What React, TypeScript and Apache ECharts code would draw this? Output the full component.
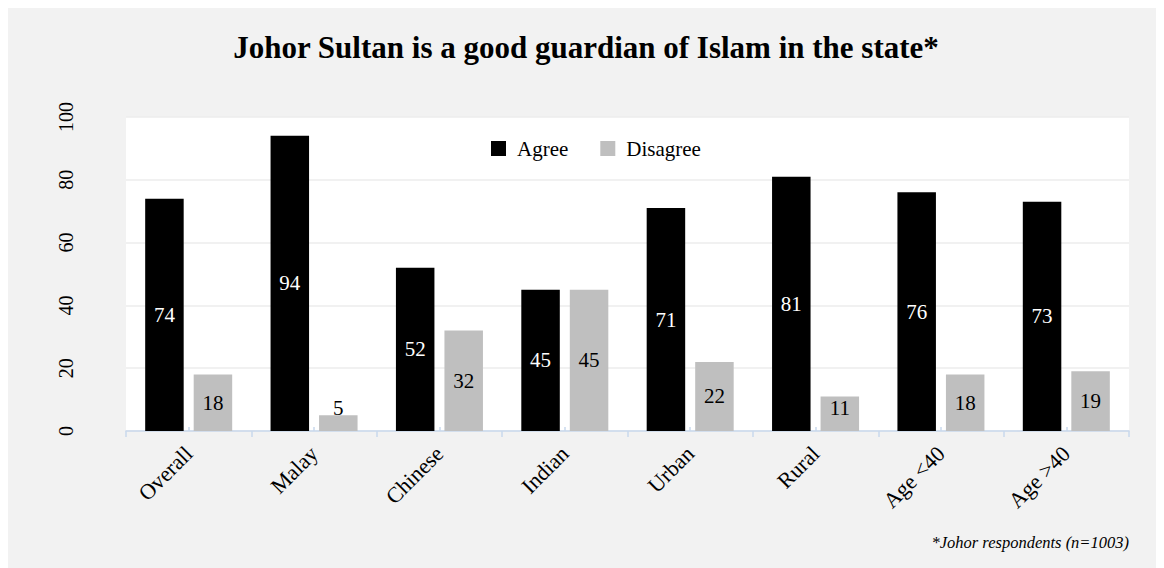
import React, { useEffect, useRef } from "react";
import * as echarts from "echarts";

const categories = ["Overall", "Malay", "Chinese", "Indian", "Urban", "Rural", "Age <40", "Age >40"];
const agreeValues = [74, 94, 52, 45, 71, 81, 76, 73];
const disagreeValues = [18, 5, 32, 45, 22, 11, 18, 19];
const seriesNames = ["Agree", "Disagree"];
const titleText = "Johor Sultan is a good guardian of Islam in the state*";
const footnoteText = "*Johor respondents (n=1003)";

const SERIF = "Liberation Serif";

function labelled(values: number[]) {
  return values.map((v) =>
    v < 15
      ? { value: v, label: { position: "insideBottom", distance: 13 } }
      : { value: v }
  );
}

export default function App() {
  const ref = useRef<HTMLDivElement>(null);
  useEffect(() => {
    document.body.style.overflow = "hidden";
    const chart = echarts.init(ref.current!, undefined, { renderer: "svg" });
    chart.setOption({
      animation: false,
      backgroundColor: "#f2f2f2",
      textStyle: { fontFamily: SERIF },
      title: {
        text: titleText,
        left: "center",
        top: 19,
        textStyle: { fontFamily: SERIF, fontSize: 31, fontWeight: "bold", color: "#000" },
      },
      legend: {
        data: seriesNames,
        left: 478,
        top: 125,
        itemWidth: 15,
        itemHeight: 15,
        itemGap: 32,
        icon: "rect",
        textStyle: { fontFamily: SERIF, fontSize: 21, color: "#000", padding: [0, 0, 0, 6] },
      },
      grid: {
        left: 118,
        right: 35,
        top: 109,
        bottom: 137,
        show: true,
        backgroundColor: "#ffffff",
        borderWidth: 0,
        containLabel: false,
      },
      xAxis: [
        {
          type: "category",
          data: categories,
          position: "bottom",
          axisLine: { show: true, lineStyle: { color: "#c9d8ec", width: 1.5 } },
          axisTick: { show: true, alignWithLabel: false, length: 6, lineStyle: { color: "#c9d8ec", width: 1.5 } },
          axisLabel: {
            rotate: 45,
            margin: 19,
            fontFamily: SERIF,
            fontSize: 22,
            color: "#000",
            interval: 0,
          },
        },
        {
          type: "category",
          data: categories,
          position: "top",
          offset: -314,
          axisLine: { show: false },
          axisTick: { show: true, inside: false, alignWithLabel: true, length: 4, lineStyle: { color: "#c9d8ec", width: 1.5 } },
          axisLabel: { show: false },
        },
      ],
      yAxis: {
        type: "value",
        min: 0,
        max: 100,
        interval: 20,
        axisLine: { show: false },
        axisTick: { show: false },
        splitLine: { lineStyle: { color: "#ececec", width: 1.5 } },
        axisLabel: {
          rotate: 90,
          margin: 50,
          fontFamily: SERIF,
          fontSize: 20,
          color: "#000",
        },
      },
      series: [
        {
          name: seriesNames[0],
          type: "bar",
          xAxisIndex: 0,
          data: labelled(agreeValues),
          barWidth: 38.5,
          barGap: "26%",
          itemStyle: { color: "#000000" },
          label: {
            show: true,
            position: "inside",
            fontFamily: SERIF,
            fontSize: 21,
            color: "#ffffff",
          },
        },
        {
          name: seriesNames[1],
          type: "bar",
          xAxisIndex: 0,
          data: labelled(disagreeValues),
          barWidth: 38.5,
          barGap: "26%",
          itemStyle: { color: "#bfbfbf" },
          label: {
            show: true,
            position: "inside",
            fontFamily: SERIF,
            fontSize: 21,
            color: "#000000",
          },
        },
      ],
      graphic: [
        {
          type: "text",
          right: 35,
          top: 526,
          style: {
            text: footnoteText,
            fontFamily: SERIF,
            fontSize: 16.5,
            fontStyle: "italic",
            fill: "#000",
          },
        },
      ],
    });
    return () => chart.dispose();
  }, []);
  return <div ref={ref} style={{ width: 1156, height: 560 }} />;
}
